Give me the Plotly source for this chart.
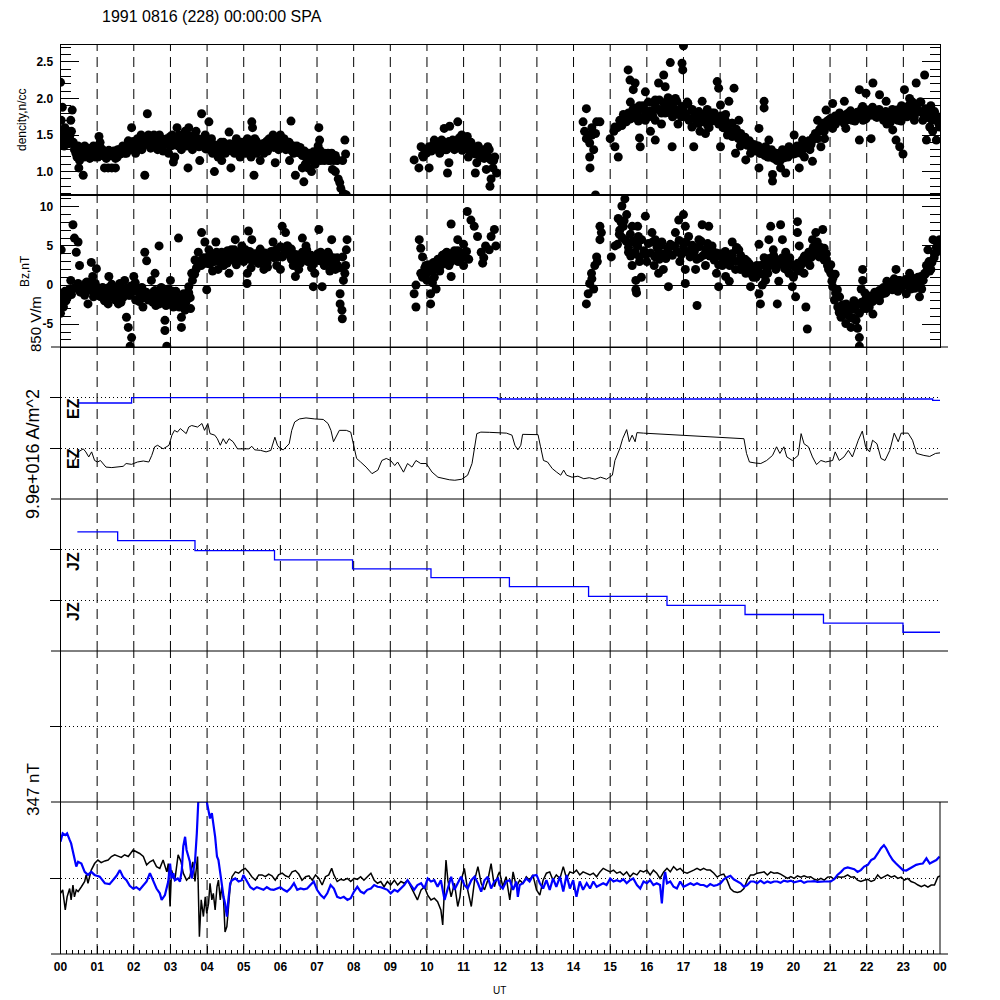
import plotly.graph_objects as go

# ---------------- data (hours UT, values) ----------------
title_text = "1991 0816 (228) 00:00:00 SPA"
hour_ticks = list(range(25))
hour_labels = ["%02d" % (h % 24) for h in hour_ticks]

density_seg1 = [(0.00,2.22),(0.02,1.70),(0.03,1.50),(0.05,1.88),(0.05,1.40),(0.08,1.55),(0.10,1.35),(0.12,1.60),(0.15,1.45),(0.18,1.55),(0.20,1.50),(0.22,1.38),(0.25,1.48),(0.28,1.70),(0.30,1.55),(0.32,1.84),(0.35,1.40),(0.38,1.30),(0.42,1.25),(0.45,1.20),(0.48,1.35),(0.50,1.05),(0.52,1.15),(0.55,1.25),(0.58,1.30),(0.62,0.95),(0.65,1.20),(0.68,1.28),(0.72,1.22),(0.75,1.32),(0.80,1.18),(0.85,1.25),(0.90,1.35),(0.95,1.20),(1.00,1.30),(1.05,1.48),(1.08,1.40),(1.10,1.22),(1.15,1.30),(1.20,1.05),(1.25,1.18),(1.30,1.05),(1.35,1.22),(1.40,1.05),(1.45,1.28),(1.50,1.05),(1.55,1.20),(1.60,1.30),(1.65,1.25),(1.70,1.35),(1.75,1.25),(1.80,1.30),(1.85,1.42),(1.90,1.30),(1.94,1.60),(1.98,1.30),(2.02,1.35),(2.05,1.25),(2.10,1.45),(2.15,1.40),(2.20,1.50),(2.25,1.35),(2.30,0.95),(2.35,1.45),(2.37,1.79),(2.40,1.50),(2.45,1.45),(2.50,1.35),(2.55,1.50),(2.60,1.45),(2.65,1.30),(2.70,1.50),(2.75,1.40),(2.80,1.28),(2.85,1.38),(2.90,1.45),(2.95,1.25),(3.00,1.35),(3.05,1.50),(3.08,1.13),(3.12,1.20),(3.15,1.45),(3.18,1.60),(3.22,1.35),(3.25,1.45),(3.30,1.30),(3.35,1.50),(3.40,1.55),(3.45,1.35),(3.48,1.05),(3.50,1.60),(3.55,1.45),(3.60,1.30),(3.65,1.45),(3.70,1.55),(3.75,1.40),(3.80,1.15),(3.85,1.79),(3.88,1.45),(3.92,1.35),(3.95,1.50),(4.00,1.40),(4.05,1.68),(4.08,1.30),(4.12,1.45),(4.15,1.25),(4.20,1.00),(4.25,1.35),(4.30,1.20),(4.35,1.30),(4.40,1.15),(4.45,1.40),(4.50,1.25),(4.55,1.35),(4.60,1.54),(4.65,1.05),(4.70,1.35),(4.75,1.25),(4.80,1.45),(4.85,1.30),(4.90,1.20),(4.95,1.40),(5.00,1.30),(5.05,1.25),(5.10,1.45),(5.15,1.30),(5.20,1.20),(5.22,1.68),(5.24,1.60),(5.28,0.95),(5.30,1.45),(5.35,1.25),(5.40,1.30),(5.45,1.15),(5.50,1.35),(5.55,1.25),(5.60,1.40),(5.65,1.28),(5.70,1.45),(5.75,1.35),(5.80,1.50),(5.86,1.12),(5.90,1.40),(5.95,1.30),(6.00,1.50),(6.05,1.35),(6.10,1.45),(6.15,1.30),(6.20,1.40),(6.25,1.15),(6.29,1.69),(6.32,1.35),(6.36,1.25),(6.41,0.95),(6.45,1.35),(6.50,1.30),(6.55,1.25),(6.60,1.05),(6.64,0.86),(6.68,1.10),(6.72,1.20),(6.75,1.05),(6.80,1.15),(6.85,1.00),(6.90,1.20),(6.95,1.10),(7.00,1.25),(7.03,1.35),(7.05,1.60),(7.07,1.43),(7.10,1.15),(7.15,1.25),(7.20,1.15),(7.25,1.20),(7.30,1.25),(7.35,1.15),(7.40,1.25),(7.42,1.03),(7.45,1.15),(7.50,1.00),(7.55,1.15),(7.58,0.90),(7.62,0.85),(7.65,0.77),(7.70,1.15),(7.72,0.70),(7.76,1.43),(7.78,1.24),(7.80,0.68)]

density_seg2 = [(9.65,1.16),(9.78,1.05),(9.84,1.34),(9.90,1.20),(9.98,1.25),(10.06,1.05),(10.10,1.30),(10.20,1.43),(10.30,1.35),(10.35,1.25),(10.40,1.43),(10.47,1.59),(10.50,1.30),(10.56,0.98),(10.60,1.12),(10.62,1.62),(10.65,1.35),(10.70,1.43),(10.75,1.30),(10.84,1.68),(10.88,1.46),(10.95,1.50),(11.00,1.34),(11.05,1.45),(11.10,1.48),(11.13,1.20),(11.20,1.40),(11.27,1.34),(11.32,0.98),(11.36,1.12),(11.40,1.35),(11.45,1.30),(11.50,1.20),(11.55,1.30),(11.60,1.20),(11.62,1.03),(11.66,1.34),(11.70,1.30),(11.72,0.80),(11.75,0.90),(11.80,1.05),(11.82,1.15),(11.85,1.20),(11.90,0.98)]

density_seg3 = [(14.26,1.68),(14.30,1.55),(14.35,1.86),(14.35,1.45),(14.40,1.50),(14.44,1.39),(14.44,1.20),(14.45,1.05),(14.50,1.50),(14.50,1.60),(14.55,1.30),(14.60,1.52),(14.60,0.68),(14.63,1.68),(14.72,1.68),(15.00,1.45),(15.10,1.55),(15.13,1.61),(15.13,1.34),(15.22,1.20),(15.30,1.65),(15.36,1.78),(15.45,1.75),(15.49,2.39),(15.54,2.25),(15.55,1.95),(15.63,2.12),(15.68,1.87),(15.68,2.21),(15.77,1.69),(15.77,1.84),(15.80,1.46),(15.82,1.34),(15.90,1.90),(15.96,2.09),(15.96,1.70),(16.05,1.75),(16.10,1.55),(16.23,1.98),(16.23,1.70),(16.23,1.43),(16.32,2.21),(16.35,1.85),(16.40,1.65),(16.46,2.32),(16.50,2.16),(16.50,1.80),(16.60,1.95),(16.64,2.49),(16.69,1.34),(16.70,1.75),(16.78,2.00),(16.78,1.84),(16.85,1.65),(16.96,2.48),(16.96,1.89),(16.98,2.39),(17.00,2.72),(17.05,1.75),(17.10,1.95),(17.15,1.70),(17.23,1.84),(17.23,1.61),(17.28,1.34),(17.35,1.75),(17.42,1.66),(17.45,1.55),(17.51,1.96),(17.55,1.70),(17.60,1.52),(17.65,1.85),(17.70,1.60),(17.78,1.80),(17.85,1.70),(17.92,2.23),(17.96,2.14),(18.01,1.91),(18.01,1.34),(18.10,1.60),(18.15,1.78),(18.20,1.50),(18.24,1.96),(18.33,1.66),(18.33,1.48),(18.38,2.14),(18.42,1.25),(18.45,1.55),(18.51,1.70),(18.55,1.35),(18.60,1.43),(18.70,1.16),(18.75,1.40),(18.83,1.25),(18.90,1.30),(19.00,1.35),(19.06,1.59),(19.06,1.05),(19.10,1.25),(19.20,1.96),(19.20,1.87),(19.24,1.34),(19.30,1.20),(19.33,1.43),(19.40,1.30),(19.43,0.96),(19.43,0.87),(19.52,1.25),(19.55,1.15),(19.65,1.20),(19.65,1.05),(19.70,1.30),(19.79,0.98),(19.85,1.20),(19.88,1.34),(19.95,1.30),(20.02,1.50),(20.06,1.25),(20.10,1.35),(20.16,1.05),(20.20,1.25),(20.25,1.43),(20.30,1.20),(20.38,1.34),(20.45,1.30),(20.52,1.43),(20.52,1.14),(20.60,1.50),(20.66,1.70),(20.70,1.55),(20.75,1.34),(20.80,1.66),(20.85,1.45),(20.89,1.84),(20.95,1.70),(21.07,1.93),(21.07,1.59),(21.15,1.65),(21.25,1.75),(21.30,1.70),(21.39,1.96),(21.43,1.59),(21.50,1.80),(21.60,1.70),(21.70,1.75),(21.80,1.43),(21.80,2.12),(21.89,1.89),(21.90,1.70),(21.98,2.07),(22.05,1.80),(22.12,1.45),(22.17,2.21),(22.17,1.80),(22.25,1.75),(22.35,2.05),(22.45,1.80),(22.53,1.96),(22.55,1.65),(22.62,1.75),(22.70,1.85),(22.71,1.57),(22.80,1.43),(22.85,1.70),(22.90,1.34),(22.95,1.90),(22.99,1.24),(23.03,2.12),(23.10,1.75),(23.17,2.00),(23.25,1.95),(23.30,1.70),(23.35,2.21),(23.40,1.84),(23.45,1.95),(23.53,1.70),(23.58,2.32),(23.63,1.43),(23.65,1.75),(23.72,1.61),(23.75,1.90),(23.80,1.55),(23.85,1.82),(23.90,1.43),(23.94,1.75),(23.99,1.61)]

bz_seg1 = [(0.00,-3.6),(0.02,4.5),(0.03,-1.9),(0.05,-1.1),(0.08,-2.8),(0.12,-0.8),(0.15,-2.0),(0.20,-1.5),(0.25,-0.5),(0.28,0.6),(0.30,-1.2),(0.34,7.7),(0.38,6.0),(0.40,-0.3),(0.43,4.2),(0.48,5.5),(0.52,2.5),(0.55,-0.2),(0.60,-0.5),(0.66,-1.1),(0.70,0.3),(0.75,-2.4),(0.80,-0.6),(0.84,-0.2),(0.84,2.9),(0.88,1.1),(0.90,-1.5),(0.95,0.2),(0.98,2.1),(1.02,-0.8),(1.05,-0.4),(1.10,-1.5),(1.15,-0.3),(1.20,-2.0),(1.25,-1.0),(1.30,-2.4),(1.32,1.1),(1.38,-1.1),(1.40,0.1),(1.45,-0.5),(1.50,-1.5),(1.55,-0.9),(1.58,-2.4),(1.62,0.2),(1.65,-2.2),(1.70,-1.6),(1.75,0.6),(1.80,-4.1),(1.85,-5.4),(1.90,-1.3),(1.90,-7.8),(1.94,-6.7),(2.00,1.1),(2.05,-1.9),(2.10,-0.8),(2.15,-2.1),(2.20,-0.6),(2.25,-2.8),(2.30,4.2),(2.35,3.1),(2.40,-1.2),(2.45,-1.8),(2.48,0.6),(2.55,-0.8),(2.58,1.5),(2.60,-2.6),(2.69,5.0),(2.70,-1.1),(2.75,-0.3),(2.80,-1.9),(2.85,-4.5),(2.85,-5.8),(2.90,-7.8),(2.95,-0.5),(3.00,0.6),(3.05,-1.5),(3.08,-2.8),(3.15,-0.8),(3.22,6.0),(3.22,-1.9),(3.25,-2.6),(3.30,-5.4),(3.30,-4.1),(3.35,-2.0),(3.40,-3.2),(3.45,-1.5),(3.50,-0.2),(3.50,-1.0),(3.55,-3.0),(3.58,1.5),(3.67,3.2),(3.70,2.0),(3.76,4.2),(3.85,6.7),(3.90,3.5),(3.94,5.5),(3.99,-0.6),(4.00,2.8),(4.05,4.5),(4.10,3.6),(4.15,1.8),(4.20,3.0),(4.24,5.5),(4.30,2.0),(4.35,3.8),(4.40,4.2),(4.45,2.5),(4.50,3.3),(4.55,2.8),(4.60,1.5),(4.66,4.5),(4.70,3.5),(4.77,5.8),(4.80,2.6),(4.85,3.2),(4.90,4.2),(4.95,5.0),(5.00,3.0),(5.05,4.5),(5.09,0.2),(5.10,1.5),(5.13,6.9),(5.20,2.2),(5.22,5.8),(5.30,3.5),(5.35,4.0),(5.40,2.8),(5.45,4.6),(5.50,3.0),(5.55,2.0),(5.60,3.8),(5.65,2.3),(5.70,3.6),(5.75,4.3),(5.80,5.5),(5.90,2.5),(5.95,3.6),(6.00,2.0),(6.05,7.5),(6.10,4.0),(6.14,6.7),(6.20,5.0),(6.25,4.3),(6.30,3.3),(6.35,2.5),(6.41,1.1),(6.45,3.5),(6.50,2.0),(6.55,2.8),(6.60,6.0),(6.65,4.0),(6.70,5.0),(6.75,3.0),(6.80,3.6),(6.85,2.2),(6.90,-0.2),(6.94,1.5),(7.00,3.5),(7.05,7.1),(7.10,4.2),(7.14,-0.2),(7.20,2.5),(7.25,3.0),(7.30,4.2),(7.35,1.8),(7.40,5.8),(7.45,3.3),(7.50,2.0),(7.55,3.5),(7.60,2.2),(7.63,-1.1),(7.63,-2.4),(7.68,-3.2),(7.69,-4.3),(7.70,3.6),(7.72,0.6),(7.76,1.5),(7.78,2.5),(7.80,4.5),(7.82,5.8)]

bz_seg2 = [(9.65,-1.1),(9.70,-2.8),(9.70,0.0),(9.79,5.8),(9.83,1.5),(9.83,4.7),(9.88,3.6),(9.97,2.5),(10.00,0.6),(10.10,-1.1),(10.10,-2.4),(10.15,0.3),(10.20,2.0),(10.20,1.0),(10.25,-0.5),(10.30,3.2),(10.35,1.8),(10.40,2.6),(10.45,3.8),(10.50,4.0),(10.55,3.0),(10.60,2.5),(10.66,7.8),(10.66,1.1),(10.70,3.6),(10.75,4.4),(10.84,5.8),(10.85,3.0),(10.90,4.2),(10.95,3.5),(11.00,5.2),(11.00,2.5),(11.10,9.4),(11.20,8.3),(11.29,7.5),(11.38,6.2),(11.48,4.2),(11.52,2.8),(11.55,3.5),(11.60,5.0),(11.70,4.5),(11.75,6.2),(11.84,7.1),(11.88,5.0)]

bz_seg3 = [(14.35,-2.4),(14.40,-1.1),(14.44,0.2),(14.49,1.5),(14.50,0.8),(14.55,-0.5),(14.58,2.5),(14.63,3.6),(14.65,3.0),(14.72,5.8),(14.72,7.5),(14.76,6.7),(15.03,3.6),(15.13,5.0),(15.22,8.5),(15.25,6.5),(15.30,8.0),(15.32,10.1),(15.36,7.5),(15.40,11.0),(15.40,5.8),(15.45,9.0),(15.50,4.2),(15.55,6.5),(15.60,2.5),(15.60,7.5),(15.65,4.0),(15.65,5.5),(15.70,0.6),(15.70,-0.6),(15.72,-1.0),(15.75,7.5),(15.75,5.0),(15.77,6.2),(15.80,3.0),(15.85,1.0),(15.96,8.8),(16.00,3.0),(16.14,6.7),(16.20,2.5),(16.23,5.8),(16.32,4.2),(16.32,1.5),(16.41,5.5),(16.45,2.0),(16.50,3.6),(16.59,-0.2),(16.60,4.0),(16.69,5.0),(16.78,6.7),(16.87,8.3),(16.90,3.0),(17.00,9.0),(17.05,7.5),(17.05,0.2),(17.05,2.0),(17.14,6.2),(17.20,4.5),(17.28,4.2),(17.33,2.0),(17.37,-2.6),(17.42,5.8),(17.45,3.5),(17.51,7.7),(17.60,2.5),(17.69,7.5),(17.70,3.8),(17.78,5.0),(17.87,3.6),(17.90,1.5),(17.96,-0.2),(18.00,4.0),(18.06,2.5),(18.15,1.1),(18.20,3.0),(18.25,0.5),(18.33,5.5),(18.33,3.6),(18.42,2.0),(18.45,4.8),(18.51,4.5),(18.55,2.0),(18.60,3.2),(18.70,1.5),(18.75,3.0),(18.83,-0.2),(18.90,1.0),(19.00,2.5),(19.06,5.2),(19.06,-1.1),(19.10,-2.4),(19.15,0.0),(19.20,3.5),(19.24,0.6),(19.30,1.5),(19.33,5.8),(19.38,7.5),(19.43,3.2),(19.45,4.5),(19.52,2.0),(19.56,-2.4),(19.60,0.5),(19.65,7.7),(19.70,5.8),(19.75,2.5),(19.79,4.2),(19.88,1.5),(19.90,3.5),(19.97,-0.2),(20.00,1.0),(20.06,-1.5),(20.11,8.1),(20.11,6.7),(20.16,5.0),(20.20,2.5),(20.25,3.2),(20.29,1.5),(20.34,-2.8),(20.38,-5.6),(20.43,4.2),(20.45,2.5),(20.52,5.8),(20.55,4.5),(20.61,6.7),(20.65,5.5),(20.70,3.6),(20.75,4.8),(20.80,7.1),(20.84,3.2),(20.90,4.0),(20.93,2.5),(21.02,1.5),(21.05,0.5),(21.07,-0.2),(21.12,-1.9),(21.15,-1.0),(21.21,-2.8),(21.25,-3.5),(21.30,-4.1),(21.35,-2.5),(21.43,-4.9),(21.50,-3.5),(21.57,-5.4),(21.60,-4.2),(21.65,-2.0),(21.71,-4.5),(21.75,-5.5),(21.80,-6.7),(21.80,-7.8),(21.85,-0.5),(21.89,2.0),(21.89,0.6),(21.95,-1.0),(21.98,-1.9),(22.00,-3.0),(22.07,-2.8),(22.10,-2.0),(22.17,-3.7),(22.20,-1.5),(22.30,-1.1),(22.35,-2.0),(22.44,-0.6),(22.50,-1.0),(22.55,0.5),(22.62,0.0),(22.70,-0.3),(22.75,0.8),(22.80,2.0),(22.85,-0.8),(22.90,0.6),(22.95,-0.2),(23.00,0.5),(23.08,-1.1),(23.10,0.2),(23.17,1.5),(23.20,-0.5),(23.25,0.8),(23.31,-0.4),(23.35,0.0),(23.40,1.0),(23.44,-1.5),(23.50,-0.5),(23.53,0.6),(23.58,1.5),(23.63,2.5),(23.67,4.5),(23.70,3.0),(23.75,2.0),(23.81,5.8),(23.85,4.0),(23.90,4.8),(23.95,5.5),(23.99,5.8),(24.00,5.0)]

# densely sampled stretches (shared sample times for density and Bz)
dense1_t = [0.42,0.48,0.54,0.60,0.66,0.72,0.78,0.84,0.90,0.96,1.02,1.08,1.14,1.20,1.26,1.32,1.38,1.44,1.50,1.56,1.62,1.68,1.74,1.80,1.86,1.92,1.98,2.04,2.10,2.16,2.22,2.28,2.34,2.40,2.46,2.52,2.58,2.64,2.70,2.76,2.82,2.88,2.94,3.00,3.06,3.12,3.18,3.24,3.30,3.36,3.42,3.48,3.54,3.60,3.66,3.72,3.78,3.84,3.90,3.96,4.02,4.08,4.14,4.20,4.26,4.32,4.38,4.44,4.50,4.56,4.62,4.68,4.74,4.80,4.86,4.92,4.98,5.04,5.10,5.16,5.22,5.28,5.34,5.40,5.46,5.52,5.58,5.64,5.70,5.76,5.82,5.88,5.94,6.00,6.06,6.12,6.18,6.24,6.30,6.36,6.42,6.48,6.54,6.60,6.66,6.72,6.78,6.84,6.90,6.96,7.02,7.08,7.14,7.20,7.26,7.32,7.38,7.44,7.50,7.56]
dense1_density = [1.33,1.22,1.30,1.25,1.35,1.21,1.28,1.32,1.24,1.30,1.20,1.34,1.23,1.27,1.19,1.29,1.22,1.26,1.18,1.30,1.24,1.28,1.33,1.25,1.38,1.30,1.41,1.33,1.43,1.36,1.30,1.44,1.38,1.46,1.32,1.40,1.45,1.35,1.42,1.31,1.44,1.37,1.41,1.48,1.36,1.45,1.40,1.50,1.38,1.47,1.42,1.36,1.49,1.43,1.39,1.46,1.34,1.42,1.37,1.31,1.40,1.33,1.38,1.29,1.36,1.30,1.40,1.27,1.35,1.31,1.38,1.28,1.36,1.41,1.30,1.37,1.33,1.26,1.39,1.32,1.36,1.29,1.42,1.35,1.31,1.38,1.34,1.42,1.37,1.45,1.33,1.40,1.44,1.36,1.42,1.38,1.33,1.40,1.29,1.35,1.31,1.26,1.33,1.22,1.28,1.18,1.25,1.20,1.27,1.17,1.23,1.29,1.19,1.25,1.21,1.15,1.24,1.18,1.22,1.16]
dense1_bz = [-0.4,0.2,-0.9,-0.2,-1.3,0.4,-0.6,0.1,-1.0,-0.3,-0.7,-1.4,-0.4,-1.8,-0.9,-0.3,-1.5,-0.8,-1.9,-1.1,-0.6,-1.7,-1.0,-0.4,-1.3,-0.1,-0.8,0.3,-0.5,-1.2,-0.3,-1.6,-0.9,-1.9,-1.2,-2.2,-0.7,-1.5,-2.4,-1.0,-1.8,-2.6,-1.2,-2.0,-0.8,-2.3,-1.5,-2.8,-1.9,-1.1,-2.2,-0.9,-1.6,0.6,1.4,2.3,3.0,2.5,3.4,2.8,3.6,2.7,3.9,3.1,4.2,3.3,2.8,4.0,3.5,4.4,3.2,3.8,4.5,3.0,4.1,3.5,4.6,3.3,3.9,4.3,3.1,4.0,3.4,2.8,3.7,3.2,4.1,2.9,3.6,4.2,3.5,4.5,3.8,4.9,3.6,4.4,5.0,3.9,4.6,3.4,3.9,2.9,3.6,4.2,3.3,4.5,3.0,3.8,2.7,3.5,4.0,3.1,3.7,2.6,3.4,3.9,2.8,3.5,3.0,2.5]

dense2_t = [9.88,9.94,10.00,10.06,10.12,10.18,10.24,10.30,10.36,10.42,10.48,10.54,10.60,10.66,10.72,10.78,10.84,10.90,10.96,11.02,11.08,11.14,11.20,11.26,11.32,11.38,11.44,11.50,11.56,11.62,11.68,11.74]
dense2_density = [1.22,1.30,1.26,1.34,1.28,1.37,1.31,1.40,1.33,1.42,1.36,1.30,1.41,1.35,1.38,1.32,1.40,1.34,1.29,1.37,1.31,1.35,1.27,1.33,1.24,1.30,1.21,1.28,1.18,1.25,1.20,1.16]
dense2_bz = [1.0,2.2,1.5,2.6,1.9,2.9,2.3,3.3,2.8,3.8,3.1,4.2,3.5,3.0,4.1,3.4,4.4,3.2,3.9,3.6,4.3,3.3]

dense3_t = [15.20,15.26,15.32,15.38,15.44,15.50,15.56,15.62,15.68,15.74,15.80,15.86,15.92,15.98,16.04,16.10,16.16,16.22,16.28,16.34,16.40,16.46,16.52,16.58,16.64,16.70,16.76,16.82,16.88,16.94,17.00,17.06,17.12,17.18,17.24,17.30,17.36,17.42,17.48,17.54,17.60,17.66,17.72,17.78,17.84,17.90,17.96,18.02,18.08,18.14,18.20,18.26,18.32,18.38,18.44,18.50,18.56,18.62,18.68,18.74,18.80,18.86,18.92,18.98,19.04,19.10,19.16,19.22,19.28,19.34,19.40,19.46,19.52,19.58,19.64,19.70,19.76,19.82,19.88,19.94,20.00,20.06,20.12,20.18,20.24,20.30,20.36,20.42,20.48,20.54,20.60,20.66,20.72,20.78,20.84,20.90,20.96,21.02,21.08,21.14,21.20,21.26,21.32,21.38,21.44,21.50,21.56,21.62,21.68,21.74,21.80,21.86,21.92,21.98,22.04,22.10,22.16,22.22,22.28,22.34,22.40,22.46,22.52,22.58,22.64,22.70,22.76,22.82,22.88,22.94,23.00,23.06,23.12,23.18,23.24,23.30,23.36,23.42,23.48,23.54,23.60,23.66,23.72,23.78,23.84,23.90,23.96]
dense3_density = [1.60,1.70,1.63,1.76,1.68,1.80,1.72,1.85,1.75,1.82,1.90,1.74,1.86,1.79,1.95,1.83,1.76,1.92,1.85,1.98,1.80,1.94,1.87,2.01,1.82,1.90,1.78,1.96,1.84,1.75,1.88,1.79,1.93,1.72,1.85,1.77,1.66,1.82,1.74,1.68,1.78,1.63,1.75,1.69,1.80,1.72,1.65,1.76,1.60,1.70,1.62,1.55,1.66,1.50,1.58,1.45,1.52,1.40,1.47,1.36,1.42,1.31,1.37,1.28,1.35,1.25,1.32,1.22,1.29,1.20,1.27,1.18,1.25,1.21,1.15,1.26,1.19,1.28,1.22,1.30,1.24,1.32,1.27,1.35,1.29,1.38,1.33,1.42,1.37,1.47,1.52,1.45,1.58,1.63,1.55,1.68,1.62,1.73,1.66,1.76,1.70,1.80,1.73,1.66,1.78,1.71,1.83,1.75,1.69,1.81,1.76,1.86,1.79,1.72,1.84,1.77,1.88,1.80,1.74,1.85,1.78,1.70,1.82,1.74,1.67,1.79,1.72,1.84,1.76,1.69,1.80,1.88,1.78,1.92,1.83,1.75,1.90,1.82,1.95,1.79,1.86,1.74,1.83,1.70,1.80,1.72,1.66]
dense3_bz = [5.2,7.0,6.1,8.2,5.6,4.8,3.7,5.6,4.2,5.0,3.6,5.8,4.4,3.9,5.3,4.1,5.5,3.6,4.8,3.3,5.1,4.0,3.4,4.7,5.2,3.8,5.0,4.3,5.7,3.9,4.9,5.5,4.2,3.6,5.1,4.4,3.3,4.9,5.6,3.8,4.6,5.3,3.7,4.5,3.2,4.1,2.6,3.7,2.9,4.3,3.4,2.5,4.0,3.1,4.5,3.0,3.8,2.6,3.3,1.9,2.7,1.4,2.2,1.0,1.8,2.5,1.4,2.9,2.1,3.4,2.6,3.8,2.3,3.2,2.7,3.5,2.1,3.0,1.6,2.6,1.2,2.2,2.8,1.8,3.2,3.7,2.9,4.2,3.5,4.8,3.9,5.1,4.3,3.6,4.7,3.2,2.0,2.6,0.9,1.4,-0.6,-1.5,-2.6,-3.3,-2.4,-3.9,-2.8,-4.2,-3.1,-2.5,-3.6,-2.2,-3.0,-1.7,-2.4,-1.4,-2.1,-0.9,-1.6,-0.7,-1.2,-0.3,-1.0,-0.5,0.1,-0.6,0.3,-0.2,0.6,-0.4,0.2,0.7,-0.1,0.5,0.9,0.2,0.8,0.4,1.1,0.6,1.4,2.2,1.8,2.9,3.5,4.2,4.9]

# EZ (normalised to the trace spacing)
ez1_t = [0.38,0.49,0.62,0.69,0.77,0.85,0.93,1.01,1.09,1.16,1.24,1.40,1.55,1.71,1.79,1.94,2.10,2.26,2.41,2.49,2.57,2.65,2.80,2.96,3.04,3.11,3.19,3.27,3.43,3.50,3.58,3.74,3.86,3.93,4.02,4.08,4.21,4.28,4.36,4.44,4.52,4.60,4.71,4.83,4.99,5.14,5.22,5.30,5.46,5.61,5.74,5.85,5.92,6.00,6.08,6.16,6.24,6.31,6.39,6.52,6.70,6.94,7.17,7.30,7.38,7.45,7.53,7.61,7.80,7.92,8.00,8.08,8.19,8.34,8.50,8.66,8.77,8.89,9.01,9.12,9.20,9.36,9.47,9.59,9.70,9.83,9.98,10.14,10.30,10.45,10.61,10.76,10.95,11.11,11.23,11.36,11.47,11.70,11.93,12.17,12.32,12.40,12.48,12.56,12.61,12.79,13.03,13.10,13.18,13.29,13.42,13.54,13.65,13.73,13.81,13.96,14.12,14.28,14.43,14.59,14.74,14.90,15.06,15.13,15.26,15.34,15.45,15.52,15.60,15.68,15.73,15.91,17.01,17.79,18.65,18.72,18.80,18.96,19.11,19.27,19.43,19.54,19.63,19.74,19.82,19.97,20.13,20.21,20.29,20.41,20.52,20.63,20.75,20.88,21.07,21.14,21.25,21.38,21.50,21.61,21.77,21.88,21.97,22.08,22.16,22.28,22.39,22.50,22.63,22.75,22.86,22.94,23.13,23.25,23.36,23.56,23.72,23.88,24.00]
ez1_v = [-0.24,-0.07,-0.01,-0.07,-0.17,-0.07,-0.24,-0.27,-0.24,-0.30,-0.37,-0.38,-0.37,-0.355,-0.30,-0.316,-0.27,-0.25,-0.27,-0.14,0.03,0.06,-0.01,0.06,0.26,0.355,0.32,0.39,0.29,0.42,0.45,0.42,0.49,0.355,0.49,0.29,0.26,0.19,0.06,0.19,0.09,0.19,0.13,-0.01,-0.01,-0.01,0.04,-0.03,-0.04,-0.07,-0.04,0.22,0.06,-0.01,-0.03,0.03,0.09,0.355,0.52,0.58,0.60,0.58,0.57,0.49,0.355,0.13,0.26,0.355,0.355,0.32,0.06,-0.20,-0.27,-0.37,-0.50,-0.43,-0.24,-0.20,-0.24,-0.34,-0.27,-0.47,-0.30,-0.37,-0.24,-0.30,-0.30,-0.47,-0.57,-0.60,-0.62,-0.63,-0.61,-0.53,-0.30,0.29,0.32,0.316,0.31,0.30,0.26,0.06,-0.03,0.06,0.276,0.276,0.27,0.03,-0.24,-0.27,-0.40,-0.47,-0.53,-0.43,-0.53,-0.57,-0.55,-0.60,-0.58,-0.61,-0.57,-0.61,-0.53,-0.24,-0.01,0.19,0.37,0.13,0.26,0.13,0.31,0.30,0.26,0.22,0.19,-0.10,-0.27,-0.29,-0.30,-0.24,-0.14,0.03,-0.10,0.03,-0.17,-0.24,-0.14,0.29,0.09,0.03,-0.17,-0.32,-0.24,-0.27,-0.24,-0.07,-0.24,-0.17,-0.04,-0.17,0.16,0.34,0.03,-0.07,0.16,0.09,-0.20,-0.24,-0.04,0.30,0.13,0.30,0.30,0.16,-0.10,-0.14,-0.16,-0.10,-0.09]

ez2_t = [0.47, 1.94, 11.93, 23.80, 24.00]
ez2_v = [-0.105, 0.0, -0.026, -0.053, -0.053]

jz_t = [0.46, 1.56, 3.67, 5.84, 7.97, 10.11, 12.25, 14.41, 16.55, 18.68, 20.82, 22.99, 24.00]
jz_v = [2.35, 2.18, 1.98, 1.80, 1.62, 1.45, 1.27, 1.08, 0.90, 0.72, 0.55, 0.37, 0.37]

# magnetometer deviations, nT
mag1_t = [0.00,0.06,0.13,0.18,0.25,0.29,0.34,0.38,0.43,0.48,0.57,0.66,0.70,0.75,0.84,0.93,1.02,1.11,1.21,1.30,1.39,1.48,1.57,1.66,1.75,1.85,1.98,2.07,2.16,2.26,2.35,2.44,2.53,2.62,2.71,2.80,2.90,2.94,2.99,3.03,3.12,3.21,3.29,3.35,3.44,3.53,3.61,3.67,3.74,3.79,3.84,3.90,3.95,3.99,4.04,4.08,4.13,4.17,4.22,4.27,4.31,4.36,4.40,4.45,4.49,4.54,4.58,4.63,4.68,4.77,4.86,4.95,5.04,5.13,5.22,5.32,5.41,5.50,5.59,5.68,5.77,5.86,5.95,6.05,6.14,6.23,6.32,6.41,6.50,6.59,6.69,6.78,6.87,6.96,7.05,7.14,7.23,7.32,7.40,7.46,7.55,7.64,7.73,7.83,7.92,8.01,8.10,8.19,8.28,8.37,8.47,8.56,8.65,8.74,8.83,8.92,9.01,9.11,9.20,9.29,9.38,9.47,9.56,9.65,9.74,9.84,9.93,10.02,10.11,10.20,10.29,10.38,10.43,10.48,10.52,10.57,10.66,10.75,10.84,10.90,10.96,11.02,11.11,11.21,11.30,11.39,11.48,11.57,11.66,11.75,11.84,11.94,11.98,12.07,12.16,12.26,12.35,12.44,12.53,12.62,12.71,12.80,12.89,12.99,13.08,13.17,13.26,13.35,13.44,13.53,13.63,13.72,13.81,13.90,13.99,14.08,14.17,14.26,14.36,14.45,14.54,14.63,14.72,14.81,14.90,15.00,15.09,15.18,15.27,15.36,15.45,15.54,15.63,15.73,15.82,15.91,16.00,16.09,16.18,16.27,16.36,16.46,16.55,16.64,16.73,16.82,16.91,17.00,17.10,17.19,17.28,17.37,17.46,17.55,17.64,17.73,17.83,17.92,18.01,18.10,18.19,18.28,18.37,18.47,18.56,18.65,18.74,18.83,18.92,19.01,19.10,19.20,19.29,19.38,19.47,19.56,19.65,19.74,19.84,19.93,20.02,20.11,20.20,20.29,20.38,20.47,20.57,20.66,20.75,20.84,20.93,21.02,21.11,21.20,21.30,21.39,21.48,21.57,21.66,21.75,21.84,21.93,22.03,22.12,22.21,22.30,22.39,22.48,22.57,22.67,22.76,22.85,22.94,23.03,23.12,23.21,23.31,23.40,23.49,23.58,23.67,23.76,23.85,23.94,24.00]
mag1_v = [-35,-27,-73,-43,-24,-50,-16,-43,-27,-31,-20,-8,7,-12,18,33,41,35,39,41,49,53,50,47,53,49,64,60,56,49,30,37,41,26,22,41,14,33,-65,18,-5,53,37,11,-5,3,37,-8,49,-134,-50,-88,-43,-81,-58,-12,-50,-35,-73,-20,-5,-50,-20,-50,-123,-111,-65,-20,3,14,11,18,22,14,3,-5,7,7,3,9,5,-5,7,11,5,2,14,17,9,-5,3,5,-5,7,-1,-16,3,7,22,7,-8,-3,-5,-1,-8,-1,-3,3,-5,3,11,-5,-12,-8,-20,-8,-16,-5,-16,-8,-12,-5,-20,-35,-50,-27,-20,-39,-50,-46,-54,-73,-107,-20,41,-5,-43,-12,-65,-43,3,22,-27,-65,-5,26,-12,-27,-5,33,-20,7,14,-20,3,-50,14,-20,-5,-12,3,-5,7,-27,-39,-5,11,14,-5,7,-1,26,-1,14,11,18,7,14,11,7,11,3,14,22,18,14,18,11,14,7,14,3,11,7,17,14,18,7,18,11,-1,14,22,14,26,18,22,14,11,14,18,22,18,22,18,18,11,2,7,9,-5,-24,-31,-33,-31,-24,-5,7,7,11,12,14,7,14,11,12,9,5,-1,3,-1,5,2,5,2,3,-3,-5,-1,-5,2,3,-3,3,2,3,7,2,3,-5,-8,-5,-3,-8,-5,7,-1,3,7,2,5,-1,2,-5,-1,-8,-11,-16,-20,-16,-21,-16,-16,2,5]

mag2_t = [0.00,0.06,0.13,0.18,0.25,0.29,0.34,0.38,0.43,0.48,0.57,0.66,0.75,0.84,0.93,1.07,1.21,1.34,1.43,1.53,1.62,1.71,1.80,1.89,1.98,2.07,2.16,2.26,2.35,2.44,2.53,2.62,2.71,2.76,2.85,2.94,2.99,3.03,3.08,3.12,3.20,3.26,3.31,3.35,3.40,3.44,3.49,3.53,3.58,3.63,3.67,3.72,3.76,3.99,4.04,4.08,4.13,4.22,4.27,4.31,4.36,4.40,4.45,4.49,4.54,4.58,4.63,4.68,4.77,4.86,4.95,4.99,5.09,5.18,5.27,5.36,5.45,5.54,5.63,5.73,5.82,5.91,6.00,6.09,6.18,6.27,6.37,6.46,6.55,6.64,6.73,6.82,6.91,7.00,7.10,7.19,7.28,7.37,7.46,7.55,7.64,7.73,7.83,7.92,8.01,8.10,8.19,8.28,8.37,8.47,8.56,8.65,8.74,8.83,8.92,9.01,9.11,9.20,9.29,9.38,9.47,9.56,9.65,9.74,9.84,9.93,10.02,10.11,10.20,10.29,10.38,10.48,10.57,10.66,10.75,10.84,10.93,11.02,11.11,11.21,11.30,11.39,11.48,11.57,11.66,11.75,11.84,11.94,11.98,12.07,12.16,12.26,12.35,12.44,12.48,12.53,12.62,12.71,12.80,12.89,12.99,13.08,13.17,13.26,13.35,13.44,13.53,13.63,13.72,13.81,13.90,13.99,14.08,14.17,14.26,14.36,14.45,14.54,14.63,14.72,14.81,14.90,15.00,15.09,15.18,15.27,15.36,15.45,15.54,15.63,15.73,15.82,15.91,16.00,16.09,16.18,16.27,16.36,16.41,16.46,16.50,16.55,16.64,16.73,16.82,16.91,17.00,17.10,17.19,17.28,17.37,17.46,17.55,17.64,17.73,17.83,17.92,18.01,18.10,18.19,18.28,18.37,18.47,18.56,18.65,18.74,18.83,18.92,19.01,19.10,19.20,19.29,19.38,19.47,19.56,19.65,19.74,19.84,19.93,20.02,20.11,20.20,20.29,20.38,20.47,20.57,20.66,20.75,20.84,20.93,21.02,21.11,21.20,21.30,21.39,21.48,21.57,21.66,21.75,21.84,21.93,22.03,22.12,22.21,22.30,22.39,22.47,22.53,22.62,22.71,22.80,22.89,22.99,23.08,23.17,23.26,23.35,23.44,23.53,23.63,23.72,23.81,23.90,23.99]
mag2_v = [83,102,98,102,87,79,60,45,26,37,33,14,7,14,7,3,-12,-14,-5,5,18,2,-5,-18,-24,-21,-27,-16,-8,11,-8,-24,-35,-50,-39,-8,33,-1,11,-5,-1,-8,18,72,94,64,49,37,-1,26,37,102,175,175,151,136,148,94,49,41,11,-20,-43,-58,-88,-50,-12,-5,-1,-8,-5,7,-8,-21,-26,-21,-24,-27,-21,-26,-27,-24,-21,-27,-31,-24,-12,-27,-24,-26,-24,-16,-8,-27,-39,-46,-35,-16,-24,-43,-46,-43,-50,-46,-31,-20,-31,-35,-27,-24,-16,-20,-21,-24,-27,-35,-27,-31,-24,-16,-5,-16,-27,-16,-12,-24,-1,-8,-5,-20,-5,-50,-20,3,-27,-12,3,-16,-24,-5,3,-12,-31,-5,3,-24,-8,-1,-16,-24,-8,-5,-27,-8,-43,-16,-12,-1,-8,5,7,-12,-24,-5,-27,-1,-20,3,-31,7,-24,-5,-43,-8,-27,-12,-24,-8,-20,-16,-12,-16,-1,-8,-5,-8,-3,-12,-5,-1,-16,-24,-8,-12,-5,-16,-12,-16,-58,-5,14,-12,-8,-20,-24,-8,-20,-16,-12,-16,-12,-16,-16,-20,-14,-18,-16,-12,-3,2,5,-3,-8,-12,-20,-16,-8,-8,-12,-6,-12,-8,-11,-8,-8,-11,-6,-8,-6,-10,-8,-6,-11,-8,-8,-7,-9,-8,-8,-8,-8,-3,7,14,22,24,22,20,14,18,26,30,41,45,56,68,75,68,53,41,33,26,18,17,22,26,30,32,33,45,33,37,41,49]

# ---------------- layout geometry (pixels of the 1000x1000 page) ----------------
W = H = 1000
PX_L, PX_R = 60.5, 940.0
panel_px = [(45, 195), (195, 347), (347, 499), (499, 651), (651, 802), (802, 954)]
xdom = [PX_L / W, PX_R / W]
def ydom(p):
    top, bot = p
    return [1 - bot / H, 1 - top / H]

FONT = "Liberation Sans"
fig = go.Figure()

def unzip(seg):
    return [p[0] for p in seg], [p[1] for p in seg]

dot = dict(color="black", size=9, line=dict(width=0))

def add_dots(t, v, xa, ya):
    n = min(len(t), len(v))
    fig.add_trace(go.Scatter(x=t[:n], y=v[:n], mode="markers", marker=dot, xaxis=xa, yaxis=ya))

for seg in (density_seg1, density_seg2, density_seg3):
    add_dots(*unzip(seg), "x", "y")
add_dots(dense1_t, dense1_density, "x", "y")
add_dots(dense2_t, dense2_density, "x", "y")
add_dots(dense3_t, dense3_density, "x", "y")
for seg in (bz_seg1, bz_seg2, bz_seg3):
    add_dots(*unzip(seg), "x2", "y2")
add_dots(dense1_t, dense1_bz, "x2", "y2")
add_dots(dense2_t, dense2_bz, "x2", "y2")
add_dots(dense3_t, dense3_bz, "x2", "y2")

# EZ panel: traces stacked at offsets 1 and 2
fig.add_trace(go.Scatter(x=ez1_t, y=[1 + v for v in ez1_v], mode="lines",
                         line=dict(color="black", width=1), xaxis="x3", yaxis="y3"))
fig.add_trace(go.Scatter(x=ez2_t, y=[2 + v for v in ez2_v], mode="lines",
                         line=dict(color="#0000ff", width=1.3, shape="hv"), xaxis="x3", yaxis="y3"))
fig.add_trace(go.Scatter(x=jz_t, y=jz_v, mode="lines",
                         line=dict(color="#0000ff", width=1.3, shape="hv"), xaxis="x4", yaxis="y4"))
fig.add_trace(go.Scatter(x=[None], y=[None], xaxis="x5", yaxis="y5"))
fig.add_trace(go.Scatter(x=mag1_t, y=mag1_v, mode="lines",
                         line=dict(color="black", width=1.5), xaxis="x6", yaxis="y6"))
fig.add_trace(go.Scatter(x=mag2_t, y=mag2_v, mode="lines",
                         line=dict(color="#0000ff", width=2.2), xaxis="x6", yaxis="y6"))

lay = dict(width=W, height=H, autosize=False, margin=dict(l=0, r=0, t=0, b=0, pad=0),
           paper_bgcolor="white", plot_bgcolor="white", showlegend=False,
           font=dict(family=FONT, color="black"))

for i in range(1, 7):
    xn = "xaxis" if i == 1 else f"xaxis{i}"
    yn = "yaxis" if i == 1 else f"yaxis{i}"
    ya = "y" if i == 1 else f"y{i}"
    xa = dict(domain=xdom, range=[0, 24], anchor=ya, showgrid=False, zeroline=False,
              showticklabels=False, ticks="", fixedrange=True, automargin=False)
    ya_d = dict(domain=ydom(panel_px[i - 1]), anchor="x" if i == 1 else f"x{i}",
                showgrid=False, zeroline=False, fixedrange=True, automargin=False,
                showline=True, linecolor="black", linewidth=1)
    if i in (1, 2):
        xa.update(showline=True, mirror=True, linecolor="black", linewidth=1)
    if i == 1:
        ya_d.update(range=[0.68, 2.73], tickvals=[1.0, 1.5, 2.0, 2.5],
                    ticktext=["1.0", "1.5", "2.0", "2.5"], ticks="inside", ticklen=18,
                    tickcolor="black", mirror="ticks",
                    minor=dict(dtick=0.1, tick0=0, ticks="inside", ticklen=10, tickcolor="black"),
                    tickfont=dict(size=12, family=FONT, weight="bold"), ticklabelstandoff=4)
    elif i == 2:
        ya_d.update(range=[-7.9, 11.5], tickvals=[-5, 0, 5, 10],
                    ticktext=["-5", "0", "5", "10"], ticks="inside", ticklen=18,
                    tickcolor="black", mirror="ticks", zeroline=True,
                    zerolinecolor="black", zerolinewidth=1,
                    minor=dict(dtick=1, tick0=0, ticks="inside", ticklen=10, tickcolor="black"),
                    tickfont=dict(size=12, family=FONT, weight="bold"), ticklabelstandoff=4)
    elif i in (3, 4):
        ya_d.update(range=[0, 3], tickvals=[1, 2], ticks="outside", ticklen=10,
                    tickcolor="black", showticklabels=False, showgrid=True,
                    gridcolor="black", griddash="1px,3px", gridwidth=1)
    elif i == 5:
        ya_d.update(range=[-1, 1], tickvals=[0], ticks="outside", ticklen=10,
                    tickcolor="black", showticklabels=False, showgrid=True,
                    gridcolor="black", griddash="1px,3px", gridwidth=1)
    else:
        ya_d.update(range=[-173.5, 173.5], tickvals=[0], ticks="outside", ticklen=10,
                    tickcolor="black", showticklabels=False, showgrid=True,
                    gridcolor="black", griddash="1px,3px", gridwidth=1)
        xa.update(showticklabels=True, tickvals=hour_ticks, ticktext=hour_labels,
                  ticks="inside", ticklen=8, tickcolor="black",
                  minor=dict(dtick=1 / 6, tick0=0, ticks="inside", ticklen=4, tickcolor="black"),
                  tickfont=dict(size=12, family=FONT, weight="bold"), ticklabelstandoff=4)
    lay[xn] = xa
    lay[yn] = ya_d

shapes = []
# dashed hour lines in every panel
for i in range(1, 7):
    xr = "x" if i == 1 else f"x{i}"
    yr = "y domain" if i == 1 else f"y{i} domain"
    for h in hour_ticks[1:-1]:
        shapes.append(dict(type="line", xref=xr, yref=yr, x0=h, x1=h, y0=0, y1=1,
                           line=dict(color="black", width=1, dash="10px,6px"), layer="below"))
# long solid separators of the lower stack
for i in range(3, 7):
    yr = f"y{i} domain"
    shapes.append(dict(type="line", xref="paper", yref=yr, x0=0.051, x1=0.948, y0=1, y1=1,
                       line=dict(color="black", width=1)))
shapes.append(dict(type="line", xref="paper", yref="y6 domain", x0=0.051, x1=0.948, y0=0, y1=0,
                   line=dict(color="black", width=1)))
shapes.append(dict(type="line", xref="paper", yref="y6 domain", x0=xdom[1], x1=xdom[1], y0=0, y1=1,
                   line=dict(color="black", width=1)))
lay["shapes"] = shapes

def ann(text, px, py, size, angle=0, bold=False, xanchor="center"):
    return dict(text=text, xref="paper", yref="paper", x=px / W, y=1 - py / H,
                xanchor=xanchor, yanchor="middle", showarrow=False, textangle=angle,
                font=dict(family=FONT, size=size, color="black", weight="bold" if bold else "normal"))

lay["annotations"] = [
    ann(title_text, 100, 16, 16, xanchor="left"),
    ann("dencity,n/cc", 22, 120, 12, -90),
    ann("Bz,nT", 25, 271, 12, -90),
    ann("850 V/m", 35, 324, 15, -90),
    ann("9.9e+016 A/m^2", 33, 454, 18, -90),
    ann("EZ", 73, 409, 16, -90, True),
    ann("EZ", 73, 459, 16, -90, True),
    ann("JZ", 73, 562, 16, -90, True),
    ann("JZ", 73, 612, 16, -90, True),
    ann("347 nT", 33, 790, 17, -90),
    ann("UT", 499, 990, 10),
]
fig.update_layout(**lay)
fig.write_html(
    "out.html",
    config=dict(displayModeBar=False, responsive=False),
    post_script="document.body.style.margin='0';document.body.style.overflow='hidden';"
                "var gd=document.getElementById('{plot_id}');gd.style.position='absolute';"
                "gd.style.left='0px';gd.style.top='0px';",
)
